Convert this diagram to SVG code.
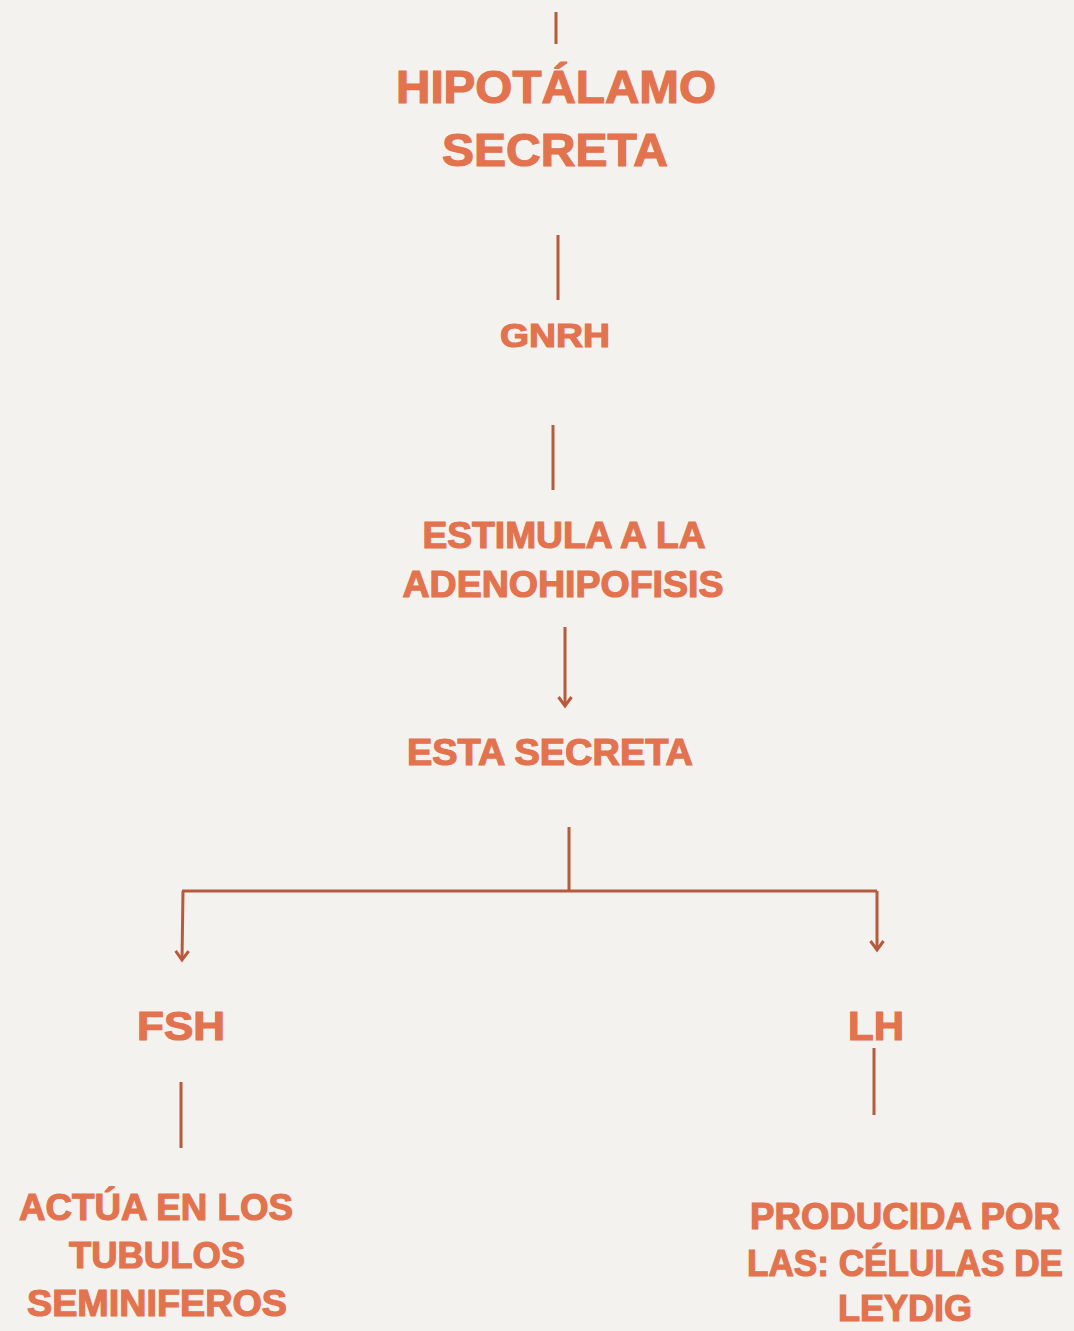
<svg xmlns="http://www.w3.org/2000/svg" width="1074" height="1331" viewBox="0 0 1074 1331">
<style>
.t{font-family:"Liberation Sans",Arial,sans-serif;font-weight:bold;fill:#E2734E;stroke:#E2734E;stroke-width:1.2;text-anchor:middle}
.c{stroke:#B85A3C;stroke-width:3;fill:none;stroke-linecap:butt}
</style>
<defs>
<marker id="ah" markerWidth="14" markerHeight="16" refX="11" refY="8" orient="auto" markerUnits="userSpaceOnUse" viewBox="0 0 14 16">
<path d="M2,1.5 L11,8 L2,14.5" fill="none" stroke="#B85A3C" stroke-width="3" stroke-linejoin="miter"/>
</marker>
</defs>
<rect width="1074" height="1331" fill="#F4F2EE"/>
<g id="connectors">
<line class="c" x1="556" y1="12" x2="556" y2="44"/>
<line class="c" x1="558" y1="235" x2="558" y2="300"/>
<line class="c" x1="553" y1="425" x2="553" y2="490"/>
<line class="c" x1="565" y1="627" x2="565" y2="706" marker-end="url(#ah)"/>
<line class="c" x1="569" y1="827" x2="569" y2="891"/>
<line class="c" x1="182" y1="891" x2="877" y2="891"/>
<line class="c" x1="183" y1="891" x2="182" y2="960" marker-end="url(#ah)"/>
<line class="c" x1="877" y1="891" x2="877" y2="950" marker-end="url(#ah)"/>
<line class="c" x1="181" y1="1082" x2="181" y2="1148"/>
<line class="c" x1="874" y1="1048" x2="874" y2="1115"/>
</g>
<g id="hipotalamo">
<text class="t" x="556" y="103" font-size="46" textLength="320" lengthAdjust="spacingAndGlyphs">HIPOTÁLAMO</text>
<text class="t" x="555" y="166" font-size="46" textLength="226" lengthAdjust="spacingAndGlyphs">SECRETA</text>
</g>
<g id="gnrh">
<text class="t" x="555" y="347" font-size="34" textLength="110" lengthAdjust="spacingAndGlyphs">GNRH</text>
</g>
<g id="adenohipofisis">
<text class="t" x="564" y="548" font-size="37" textLength="283" lengthAdjust="spacingAndGlyphs">ESTIMULA A LA</text>
<text class="t" x="563" y="597" font-size="37" textLength="321" lengthAdjust="spacingAndGlyphs">ADENOHIPOFISIS</text>
</g>
<g id="esta-secreta">
<text class="t" x="550" y="765" font-size="37" textLength="286" lengthAdjust="spacingAndGlyphs">ESTA SECRETA</text>
</g>
<g id="fsh">
<text class="t" x="181" y="1040" font-size="40" textLength="88" lengthAdjust="spacingAndGlyphs">FSH</text>
</g>
<g id="lh">
<text class="t" x="876" y="1040" font-size="40" textLength="56" lengthAdjust="spacingAndGlyphs">LH</text>
</g>
<g id="fsh-desc">
<text class="t" x="156" y="1220" font-size="37" textLength="274" lengthAdjust="spacingAndGlyphs">ACTÚA EN LOS</text>
<text class="t" x="157" y="1268" font-size="37" textLength="176" lengthAdjust="spacingAndGlyphs">TUBULOS</text>
<text class="t" x="157" y="1316" font-size="37" textLength="260" lengthAdjust="spacingAndGlyphs">SEMINIFEROS</text>
</g>
<g id="lh-desc">
<text class="t" x="905" y="1229" font-size="36" textLength="310" lengthAdjust="spacingAndGlyphs">PRODUCIDA POR</text>
<text class="t" x="905" y="1276" font-size="36" textLength="316" lengthAdjust="spacingAndGlyphs">LAS: CÉLULAS DE</text>
<text class="t" x="905" y="1321" font-size="36" textLength="134" lengthAdjust="spacingAndGlyphs">LEYDIG</text>
</g>
</svg>
